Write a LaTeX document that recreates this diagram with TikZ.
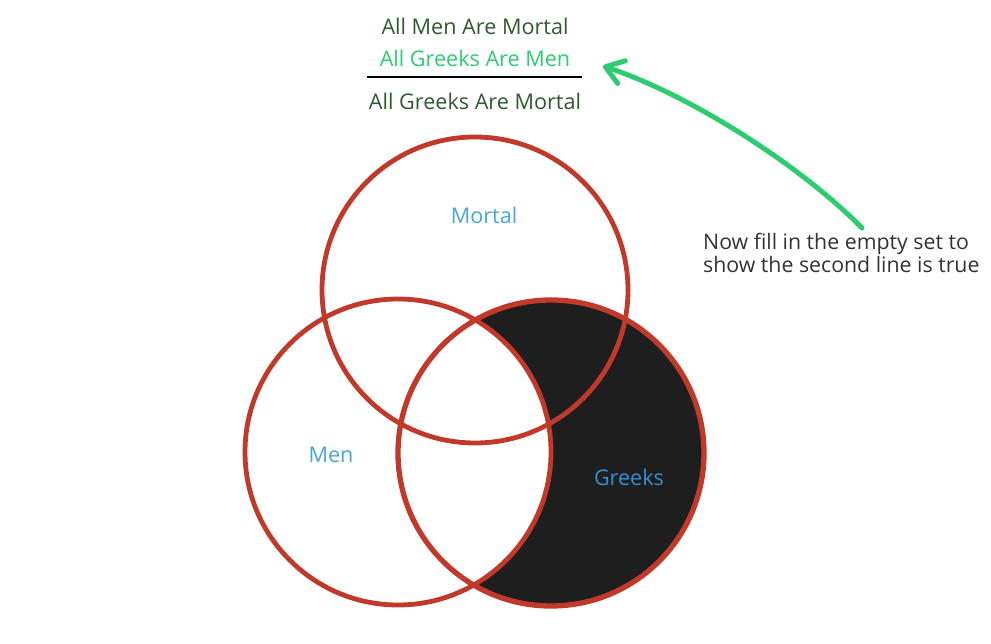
\documentclass[tikz,border=0pt]{standalone}
\usepackage{fontspec}
\setmainfont{Open Sans}
\usetikzlibrary{arrows.meta,backgrounds}
\definecolor{premisegreen}{HTML}{2F5A2F}
\definecolor{minorgreen}{HTML}{2ECC71}
\definecolor{vennred}{HTML}{C0392B}
\definecolor{labelblue}{HTML}{4BA3E0}
\definecolor{greeksblue}{HTML}{3590D3}
\definecolor{notegray}{HTML}{333333}
\definecolor{shadeblack}{HTML}{1E1E1E}
\newdimen\vennradius
\setlength{\vennradius}{153pt}
\tikzstyle{textstyle}=[anchor=base,inner sep=0pt,font=\fontsize{21.6}{24}\selectfont]
\tikzstyle{vennstyle}=[shape=circle,draw=vennred,line width=4.8pt,minimum size=2\vennradius,inner sep=0pt]
\tikzstyle{setlabelstyle}=[textstyle,anchor=center,text=labelblue]
\tikzstyle{arrowstyle}=[draw=minorgreen,line width=5pt,line cap=round,-{Straight Barb[length=17pt,width=24pt,round]}]

\begin{document}
\begin{tikzpicture}[x=1pt,y=-1pt]
\useasboundingbox (0,0) rectangle (991,644);

% syllogism
\node[textstyle,text=premisegreen] (major) at (475,35) {All Men Are Mortal};
\node[textstyle,text=minorgreen] (minor) at (475,67) {All Greeks Are Men};
\node[textstyle,text=premisegreen] (concl) at (475,110) {All Greeks Are Mortal};
\draw[line width=1.6pt] (367,77) -- (582,77);

% the three sets
\node[vennstyle] (mortal) at (475,290) {};
\node[vennstyle] (men) at (398,452) {};
\node[vennstyle,line width=5.3pt] (greeks) at (551,453) {};
\begin{pgfonlayer}{background}
\fill[shadeblack] (greeks.center) circle (\vennradius);
\fill[white] (men.center) circle (\vennradius);
\end{pgfonlayer}
\node[setlabelstyle] (mortallab) at (484,215) {Mortal};
\node[setlabelstyle] (menlab) at (331,455) {Men};
\node[setlabelstyle,text=greeksblue] (greekslab) at (629,477) {Greeks};

% note and arrow
\node[textstyle,anchor=north west,align=left,text=notegray,font=\fontsize{21.3}{23}\selectfont] (note) at (703,233) {Now fill in the empty set to\\show the second line is true};
\coordinate (tail) at (862,228);
\coordinate (head) at (603,66);
\draw[arrowstyle] (tail) .. controls (800,165) and (690,95) .. (head);
\end{tikzpicture}
\end{document}
